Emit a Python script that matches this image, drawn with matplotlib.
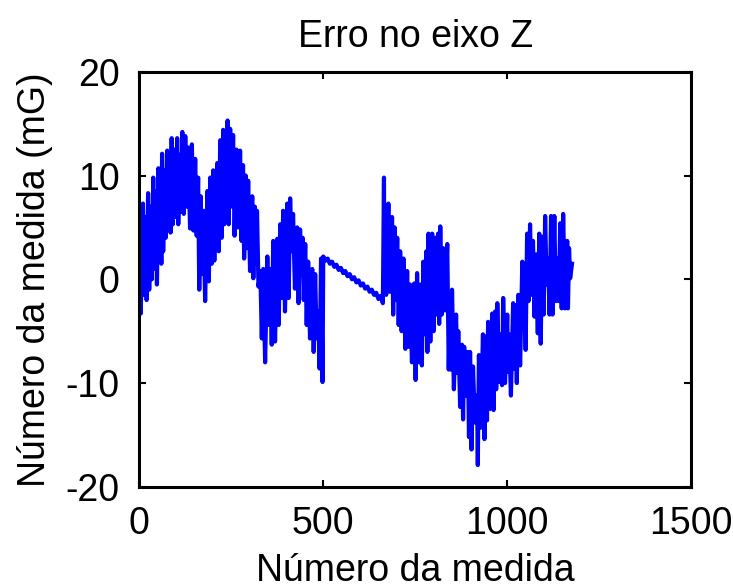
import numpy as np
import matplotlib.pyplot as plt

plt.rcParams['font.family'] = ['Liberation Sans', 'DejaVu Sans']
plt.rcParams['axes.unicode_minus'] = False

# trecho 1 (0-500): picos e vales alternados
medida_1 = [1, 4, 10, 13, 17, 20, 24, 27, 31, 34, 38, 41, 45, 48, 52, 55, 57, 60, 62, 65,
            69, 72, 76, 79, 82, 85, 88, 91, 95, 99, 103, 106, 110, 113, 117, 121, 125, 129, 133, 138,
            143, 147, 152, 156, 160, 163, 167, 170, 174, 179, 185, 189, 193, 197, 201, 204, 207, 210, 212, 216,
            220, 224, 228, 231, 234, 237, 240, 243, 247, 251, 255, 259, 264, 269, 274, 278, 282, 285, 289, 292,
            296, 301, 307, 310, 314, 317, 320, 324, 329, 333, 337, 342, 348, 352, 356, 360, 364, 369, 375, 379,
            383, 387, 391, 396, 402, 406, 410, 414, 418, 423, 429, 433, 437, 440, 444, 447, 451, 455, 459, 464,
            470, 474, 478, 482, 486, 490, 494, 498]
erro_1 = [5.0, -3.3, 7.3, -1.5, 6.0, -2.0, 8.3, -1.0, 7.0, 0.0, 9.8, 1.0, 8.5, -0.5, 10.7, 2.4, 9.0, 1.5, 12.1, 2.7,
          10.5, 4.0, 12.4, 5.3, 11.0, 4.5, 13.6, 5.3, 12.5, 6.0, 13.6, 5.3, 12.0, 6.5, 14.2, 6.3, 13.8, 7.0, 12.7, 4.9,
          13.0, 4.7, 11.6, 4.2, 9.8, -1.0, 8.0, 0.5, 6.6, -2.1, 8.5, -0.2, 9.8, 1.5, 10.5, 1.8, 9.0, 3.0, 11.2, 2.7,
          13.4, 4.0, 14.4, 5.3, 13.0, 6.0, 15.3, 5.3, 14.5, 7.0, 13.9, 4.2, 12.5, 5.0, 12.4, 3.7, 11.0, 2.0, 10.0, 3.0,
          9.5, 0.8, 8.0, 0.1, 7.0, 1.5, 6.6, -0.7, 0.8, -5.7, 1.0, -8.0, 2.2, -4.4, 1.0, -6.3, 3.7, -6.0, 3.9, -4.4,
          5.3, -1.8, 6.6, -3.1, 7.3, -1.8, 7.8, 2.7, 6.3, -0.9, 5.0, -2.3, 4.8, 0.8, 4.0, -2.0, 3.4, -4.4, 1.7, -5.7,
          1.0, -7.0, 0.5, -5.7, -3.1, -8.6, 2.0, -9.9]

# trecho 2 (500-662): deriva quase linear
medida_2 = [500, 506, 512, 518, 524, 530, 536, 542, 548, 554, 560, 566, 572, 578,
            584, 590, 596, 602, 608, 614, 620, 626, 632, 638, 644, 650, 656, 662]
erro_2 = [2.2, 1.8, 2.0, 1.5, 1.7, 1.2, 1.4, 0.9, 1.1, 0.6, 0.8, 0.3, 0.5, 0.0,
          0.2, -0.3, -0.1, -0.6, -0.4, -0.9, -0.7, -1.2, -1.0, -1.5, -1.3, -1.9, -1.6, -2.3]

# trecho 3 (665-1176)
medida_3 = [665, 666,
            668, 671, 677, 681, 687, 690, 694, 697, 701, 705, 709, 713, 718, 723, 728, 732, 736, 741, 747, 751,
            755, 759, 764, 768, 772, 776, 780, 783, 786, 791, 796, 800, 804, 808, 812, 815, 818, 822, 826, 831,
            837, 841, 845, 847, 850, 855, 861, 864, 867, 872, 877, 880, 883, 888, 893, 896, 899, 903, 907, 912,
            918, 920, 923, 928, 934, 938, 942, 945, 948, 953, 959, 963, 967, 970, 973, 978, 984, 986, 989, 994,
            1000, 1002, 1005, 1010, 1016, 1019, 1022, 1026, 1030, 1035, 1041, 1043, 1046, 1050, 1054, 1058, 1062, 1066, 1070, 1074,
            1079, 1083, 1087, 1091, 1095, 1099, 1103, 1107, 1111, 1115, 1119, 1123, 1128, 1132, 1136, 1140, 1144, 1148, 1152, 1157,
            1163, 1165, 1168, 1171, 1176]
erro_3 = [9.8, -1.0,
          6.0, -1.5, 7.3, -1.2, 6.0, -3.4, 5.0, -2.0, 4.0, -4.4, 2.7, -5.0, 2.0, -6.7, 0.8, -6.5, -0.5, -8.0, -0.4, -9.7,
          0.6, -8.0, -0.5, -8.3, 1.7, -5.3, 2.7, -7.0, 4.4, -6.0, 4.4, -5.0, 4.0, -3.4, 4.4, -4.3, 5.1, -3.4, 3.0, -3.0,
          3.4, -8.7, -1.5, -8.7, -1.0, -10.6, -3.4, -9.0, -5.0, -12.3, -6.3, -13.5, -6.5, -11.2, -7.0, -15.2, -7.0, -16.4, -8.4, -13.8,
          -11.2, -17.9, -7.3, -14.3, -5.3, -15.4, -5.5, -13.6, -4.1, -12.5, -3.3, -12.6, -3.1, -10.6, -2.3, -9.9, -5.3, -10.2, -1.8, -10.0,
          -3.4, -8.9, -5.3, -11.2, -2.3, -8.6, -2.5, -10.0, -1.5, -8.3, 1.7, -4.7, 1.4, -6.8, 4.4, -2.1, 5.3, -1.5, 3.7, -3.6,
          2.4, -5.2, 4.4, -6.2, 4.1, -3.4, 6.1, -0.5, 2.0, -3.4, 6.1, -3.4, 6.1, -2.1, 2.0, -2.1, 5.4, -2.8, 6.3, -2.8,
          3.7, -2.8, 3.0, 0.1, 1.5]

medida = np.array(medida_1 + medida_2 + medida_3)
erro = np.array(erro_1 + erro_2 + erro_3)

fig = plt.figure(figsize=(7.33, 5.88), dpi=100)
ax = fig.add_axes([0.190, 0.172, 0.753, 0.706])
ax.plot(medida, erro, color='#0000ff', linewidth=3.0)

ax.set_xlim(0, 1500)
ax.set_ylim(-20, 20)
ax.set_xticks([0, 500, 1000, 1500])
ax.set_yticks([-20, -10, 0, 10, 20])
ax.tick_params(direction='in', length=5, width=1.5, top=True, right=True,
               labelsize=27, pad=14, colors='black')
for s in ax.spines.values():
    s.set_linewidth(2.2)

ax.set_title('Erro no eixo Z', fontsize=27, pad=18)
ax.set_xlabel('Número da medida', fontsize=27, labelpad=8)
ax.set_ylabel('Número da medida (mG)', fontsize=27, labelpad=9)

fig.savefig('out.png', dpi=100)
